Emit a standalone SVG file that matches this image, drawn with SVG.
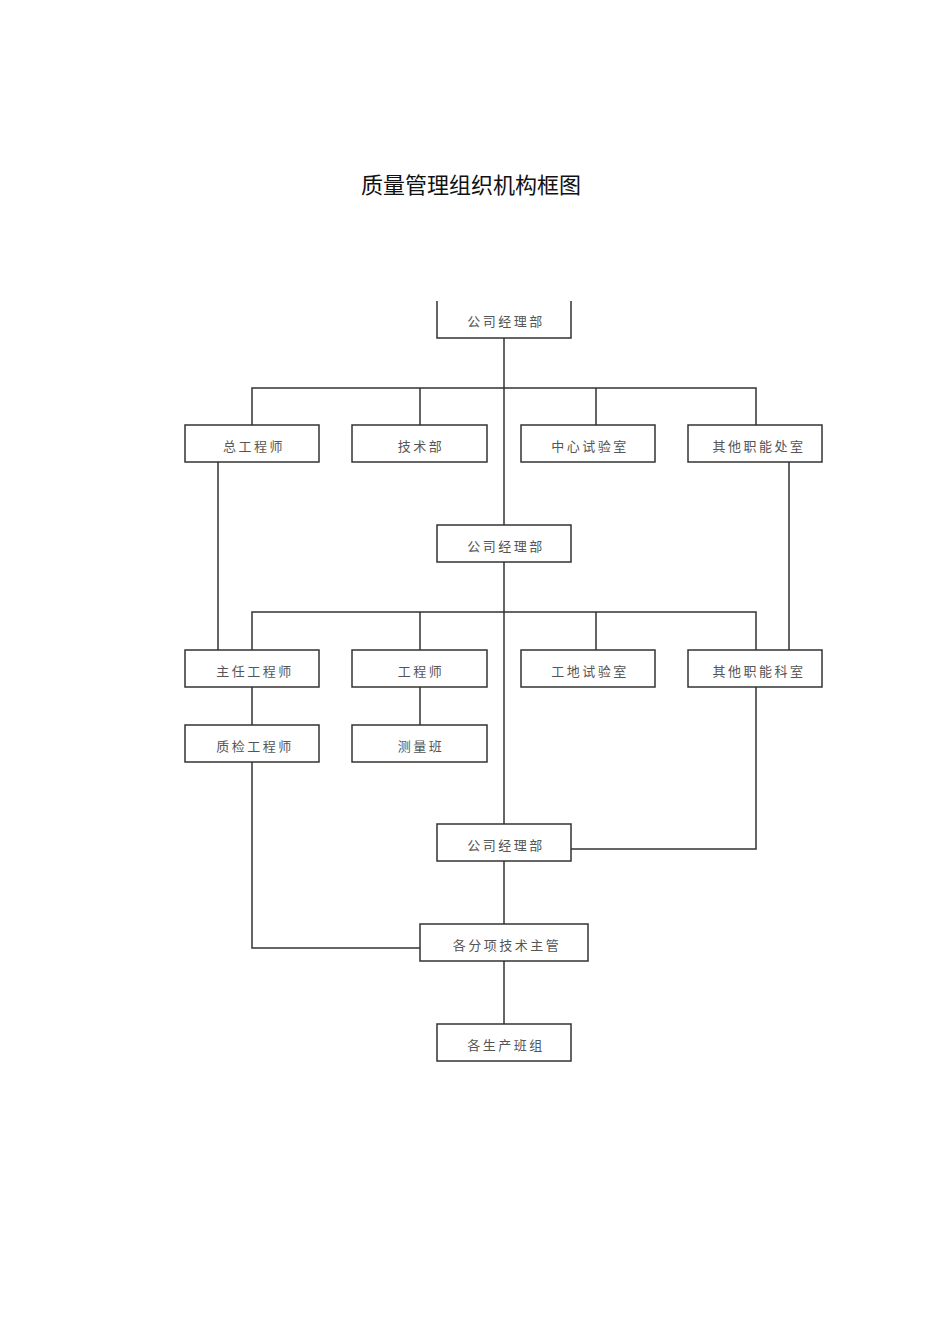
<svg xmlns="http://www.w3.org/2000/svg" width="950" height="1344" viewBox="0 0 950 1344">
<style>
.box{fill:#fff;stroke:#333;stroke-width:1.5}
.lbl{font-family:"Liberation Sans","Noto Sans CJK SC",sans-serif;font-size:13px;fill:#555;letter-spacing:2.5px;text-anchor:middle}
.ln{fill:none;stroke:#333;stroke-width:1.5}
.title{font-family:"Liberation Sans","Noto Sans CJK SC",sans-serif;font-size:22px;fill:#111;text-anchor:middle}
</style>
<rect width="950" height="1344" fill="#fff"/>
<text class="title" x="471" y="193">质量管理组织机构框图</text>
<g id="connectors">
<path class="ln" d="M504 338V824M504 861V924M504 961V1024"/>
<path class="ln" d="M252 425V388H756V425M420 388V425M596 388V425"/>
<path class="ln" d="M252 650V612H756V650M420 612V650M596 612V650"/>
<path class="ln" d="M218 462V650M789 462V650"/>
<path class="ln" d="M252 687V725M420 687V725"/>
<path class="ln" d="M252 762V948H420"/>
<path class="ln" d="M756 687V849H571"/>
</g>
<g id="n1"><path class="box" d="M437 301V338H571V301"/><text class="lbl" x="506" y="326">公司经理部</text></g>
<g id="n2"><rect class="box" x="185" y="425" width="134" height="37"/><text class="lbl" x="254" y="451">总工程师</text></g>
<g id="n3"><rect class="box" x="352" y="425" width="135" height="37"/><text class="lbl" x="421" y="451">技术部</text></g>
<g id="n4"><rect class="box" x="521" y="425" width="134" height="37"/><text class="lbl" x="590" y="451">中心试验室</text></g>
<g id="n5"><rect class="box" x="688" y="425" width="134" height="37"/><text class="lbl" x="759" y="451">其他职能处室</text></g>
<g id="n6"><rect class="box" x="437" y="525" width="134" height="37"/><text class="lbl" x="506" y="551">公司经理部</text></g>
<g id="n7"><rect class="box" x="185" y="650" width="134" height="37"/><text class="lbl" x="255" y="676">主任工程师</text></g>
<g id="n8"><rect class="box" x="352" y="650" width="135" height="37"/><text class="lbl" x="421" y="676">工程师</text></g>
<g id="n9"><rect class="box" x="521" y="650" width="134" height="37"/><text class="lbl" x="590" y="676">工地试验室</text></g>
<g id="n10"><rect class="box" x="688" y="650" width="134" height="37"/><text class="lbl" x="759" y="676">其他职能科室</text></g>
<g id="n11"><rect class="box" x="185" y="725" width="134" height="37"/><text class="lbl" x="255" y="751">质检工程师</text></g>
<g id="n12"><rect class="box" x="352" y="725" width="135" height="37"/><text class="lbl" x="421" y="751">测量班</text></g>
<g id="n13"><rect class="box" x="437" y="824" width="134" height="37"/><text class="lbl" x="506" y="850">公司经理部</text></g>
<g id="n14"><rect class="box" x="420" y="924" width="168" height="37"/><text class="lbl" x="507" y="950">各分项技术主管</text></g>
<g id="n15"><rect class="box" x="437" y="1024" width="134" height="37"/><text class="lbl" x="506" y="1050">各生产班组</text></g>
</svg>
